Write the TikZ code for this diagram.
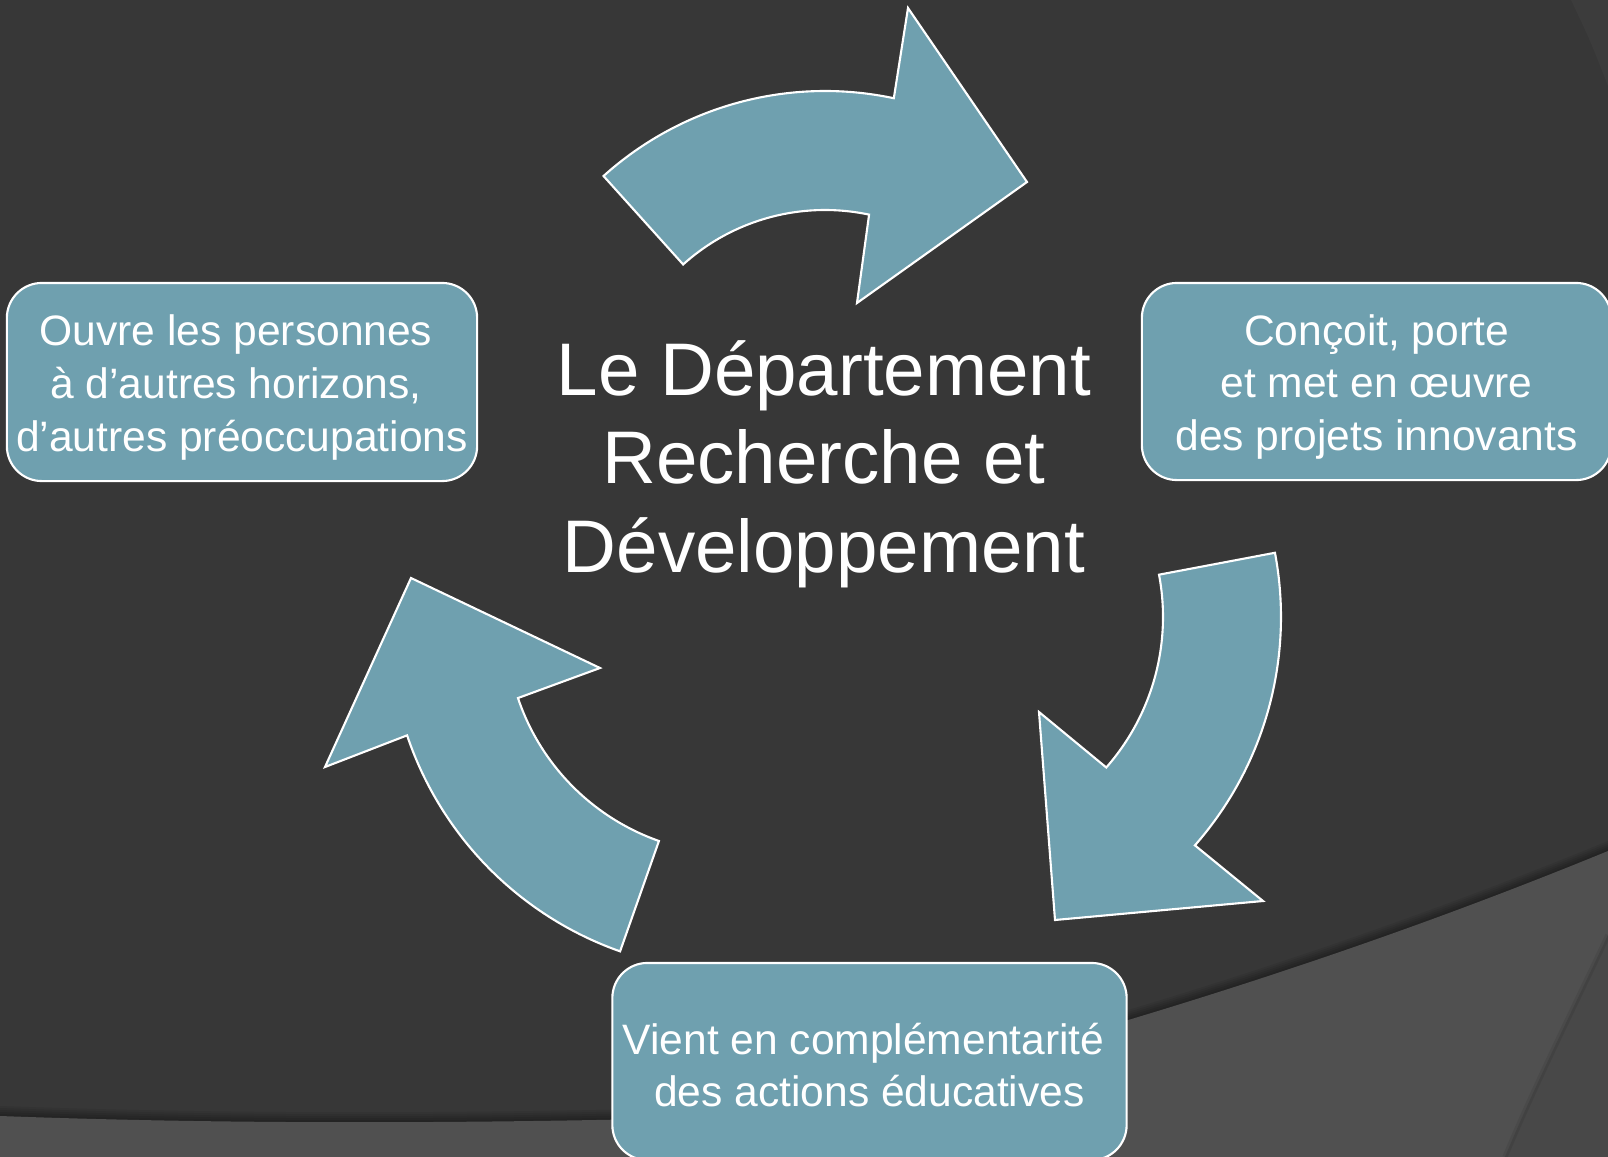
\documentclass[tikz,border=0pt]{standalone}
\usepackage{fontspec}
\setmainfont{Liberation Sans}
\definecolor{slatebg}{RGB}{55,55,55}
\definecolor{slatelight}{RGB}{80,80,80}
\definecolor{slatemid}{RGB}{72,72,72}
\definecolor{slatecorner}{RGB}{60,60,60}
\definecolor{cyclefill}{RGB}{111,160,175}

\begin{document}
\begin{tikzpicture}[x=0.01cm,y=0.01cm,
    rolebox/.style ={rectangle, rounded corners=0.35cm, draw=white, line width=0.6pt, fill=cyclefill,
      text=white, align=center, inner sep=0pt, minimum width=4.7cm, minimum height=1.98cm,
      font=\fontsize{12.1}{15}\selectfont},
    cyclearrow/.style ={fill=cyclefill, draw=white, line width=0.6pt},
    bandshadow/.style ={black, opacity=0.07}]
   \useasboundingbox (0,0) rectangle (1608,-1157);
   \fill[slatebg] (0,0) rectangle (1608,-1157);
   % background bands
   \fill[slatecorner] (1571,0) .. controls (1590,-40) .. (1608,-86) -- (1608,0) -- cycle;
   \foreach \s in {2,4,6,8,10}
     \fill[bandshadow, yshift=\s*0.01cm] (0,-1116) .. controls (300,-1127) and (600,-1122) .. (900,-1112) -- (900,-1157) -- (0,-1157) -- cycle;
   \fill[slatelight] (0,-1116) .. controls (300,-1127) and (600,-1122) .. (900,-1112) -- (900,-1157) -- (0,-1157) -- cycle;
   \foreach \s in {2,4,6,8,10}
     \fill[bandshadow, yshift=\s*0.01cm] (1608,-851) .. controls (1330,-965) and (1050,-1050) .. (700,-1135) -- (700,-1157) -- (1608,-1157) -- cycle;
   \fill[slatelight] (1608,-851) .. controls (1330,-965) and (1050,-1050) .. (700,-1135) -- (700,-1157) -- (1608,-1157) -- cycle;
   \fill[slatemid] (1608,-935) .. controls (1575,-1005) and (1535,-1085) .. (1505,-1157) -- (1608,-1157) -- cycle;
   \draw[black, opacity=0.07, line width=1.5pt] (1608,-935) .. controls (1575,-1005) and (1535,-1085) .. (1505,-1157);
   % arrows
   \begin{scope}[shift={(825,-422)}]
     \draw[cyclearrow] (132:331) arc[start angle=132, end angle=78, radius=331] -- (83,414) -- (202,240) -- (32,119)
       -- (78:212) arc[start angle=78, end angle=132, radius=212] -- cycle;
   \end{scope}
   \begin{scope}[shift={(935,-617)}]
     \draw[cyclearrow] (10.7:346) arc[start angle=10.7, end angle=-41.3, radius=346] -- (328,-284) -- (120,-303) -- (104,-95)
       -- (-41.3:228) arc[start angle=-41.3, end angle=10.7, radius=228] -- cycle;
   \end{scope}
   \begin{scope}[shift={(735,-625)}]
     \draw[cyclearrow] (250.6:346) arc[start angle=250.6, end angle=198.6, radius=346] -- (-410,-142) -- (-324,47) -- (-135,-43)
       -- (198.6:229) arc[start angle=198.6, end angle=250.6, radius=229] -- cycle;
   \end{scope}
   % boxes
   \node[rolebox] (opens) at (242,-382) {\rule{0pt}{11.8pt}Ouvre les personnes\kern0.28em\\à d’autres horizons,\kern0.28em\\d’autres préoccupations};
   \node[rolebox, minimum width=4.69cm, minimum height=1.97cm] (designs) at (1376.5,-381.5) {\rule{0pt}{11.8pt}Conçoit, porte\\et met en œuvre\\des projets innovants};
   \node[rolebox, minimum width=5.14cm, minimum height=1.97cm, font=\fontsize{12.1}{14.8}\selectfont] (complements) at (869.5,-1061.5) {\rule{0pt}{11pt}Vient en complémentarité\kern0.28em\\des actions éducatives};
   \node[text=white, align=center, font=\fontsize{21.2}{25.2}\selectfont] (dept) at (824,-464) {Le Département\\Recherche et\\Développement};
 \end{tikzpicture}
\end{document}
